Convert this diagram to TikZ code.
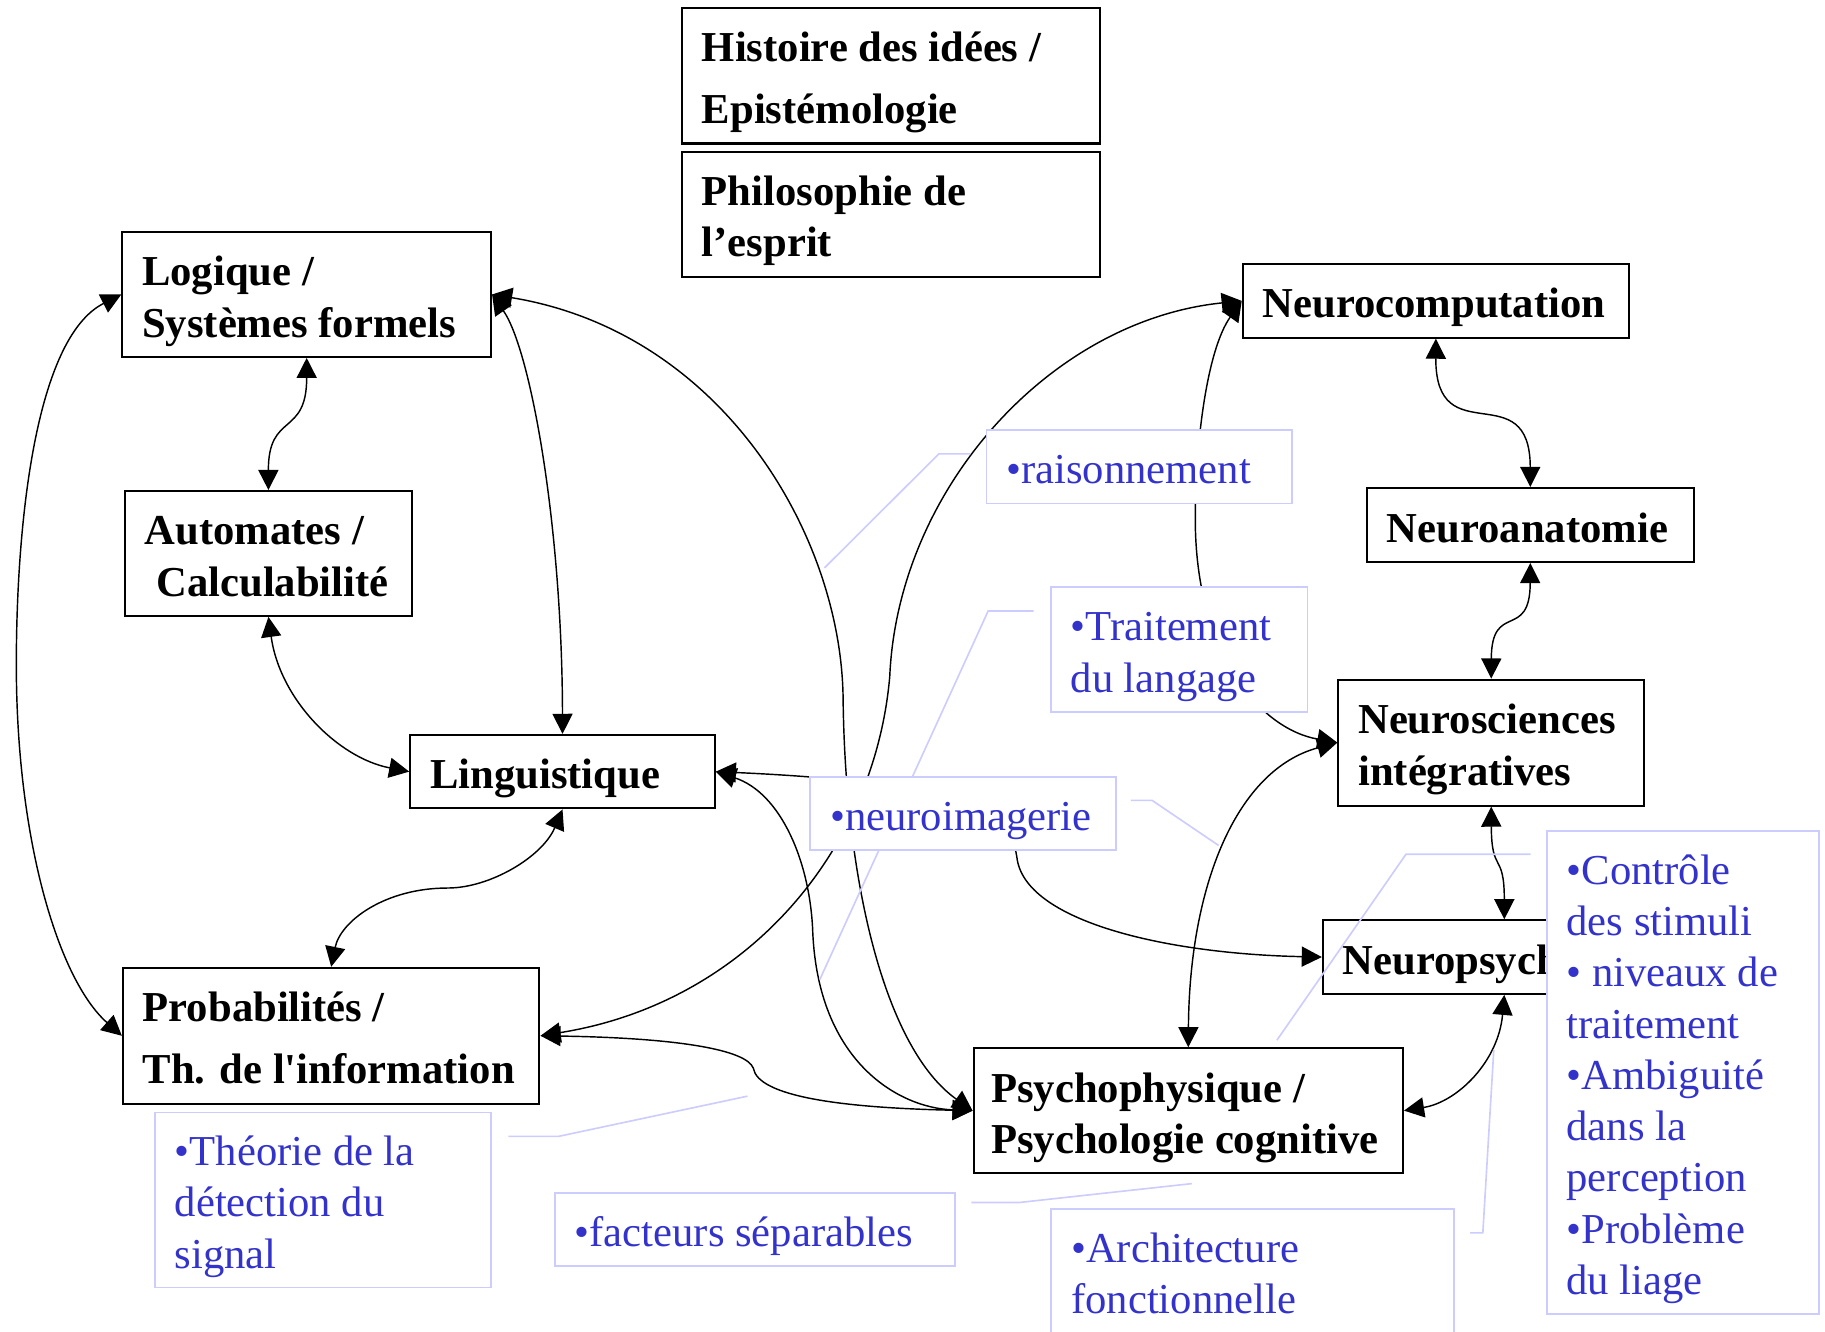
\documentclass[tikz,border=0pt]{standalone}
\usepackage{fontspec}
\setmainfont{Liberation Serif}
\usetikzlibrary{arrows.meta,calc}
\definecolor{bleu}{RGB}{51,51,204}
\definecolor{bleupale}{RGB}{204,204,255}
\pgfdeclarelayer{fond}
\pgfsetlayers{fond,main}
\newcommand{\tx} {\fontsize{10.4}{12.5}\selectfont}
\newcommand{\txl}{\fontsize{10.4}{15.2}\selectfont}
\newcommand{\haut}{\rule{0pt}{10.7pt}}
\newcommand{\bas} {\rule[-2.4pt]{0pt}{2.4pt}}

\begin{document}
\begin{tikzpicture}[x=0.01cm,y=-0.01cm,
      dom/.style={draw,line width=0.5pt,fill=white,font=\tx\bfseries,align=flush left,inner xsep=0.17cm,inner ysep=0pt,
                  execute at begin node=\haut,execute at end node=\bas},
      theme/.style={draw=bleupale,line width=0.45pt,fill=white,text=bleu,font=\tx,align=flush left,inner xsep=0.17cm,inner ysep=0pt,
                  execute at begin node=\haut,execute at end node=\bas},
      lien/.style={{Triangle[length=4.9pt,width=4.9pt]}-{Triangle[length=4.9pt,width=4.9pt]},line width=0.35pt},
      renvoi/.style={bleupale,line width=0.4pt}]
      \useasboundingbox (0,0) rectangle (1565,1141.4);

      \node[dom,font=\txl\bfseries,text width=3.24cm,minimum height=1.16cm] (histoire) at (764,65) {Histoire des idées /\\Epistémologie};
      \node[dom,text width=3.24cm,minimum height=1.07cm] (philo) at (764,183.7) {Philosophie de\\l’esprit};
      \node[dom,text width=2.82cm,minimum height=1.07cm] (logique) at (263,252.5) {Logique /\\Systèmes formels};
      \node[dom,text width=2.12cm,minimum height=1.07cm] (automates) at (230.2,474.6) {Automates /\\\hspace*{0.1cm}Calculabilité};
      \node[dom,text width=2.27cm,minimum height=0.63cm] (linguistique) at (482.4,661.7) {Linguistique};
      \node[dom,font=\txl\bfseries,text width=3.23cm,minimum height=1.165cm] (proba) at (284,888.2) {Probabilités /\\\mbox{Th. de l\textquotesingle information}};
      \node[dom,text width=2.97cm,minimum height=0.63cm] (neurocomp) at (1231.3,258) {Neurocomputation};
      \node[dom,text width=2.46cm,minimum height=0.635cm] (neuroanat) at (1312.3,450.2) {Neuroanatomie};
      \node[dom,text width=2.28cm,minimum height=1.08cm] (neurosci) at (1278.8,636.8) {Neurosciences\\intégratives};
      \node[dom,text width=2.77cm,minimum height=0.63cm] (neuropsy) at (1290,820.7) {Neuropsychologie};
      \node[dom,inner xsep=0.15cm,text width=3.38cm,minimum height=1.07cm] (psycho) at (1019,952.4) {Psychophysique /\\\mbox{Psychologie cognitive}};

      \node[theme,text width=2.28cm,minimum height=0.63cm] (raison) at (977,400.2) {•raisonnement};
      \node[theme,text width=1.86cm,minimum height=1.067cm] (traitement) at (1011.2,557) {•Traitement\\du langage};
      \node[theme,text width=2.28cm,minimum height=0.625cm] (neuroim) at (826,697.3) {•neuroimagerie};
      \node[theme,text width=2.54cm,minimum height=1.50cm] (theorie) at (277,1029) {•Théorie de la\\détection du\\signal};
      \node[theme,text width=3.09cm,minimum height=0.624cm] (facteurs) at (647.5,1054.2) {•facteurs séparables};
      \node[theme,text width=3.11cm,minimum height=1.07cm] (archi) at (1074.2,1090.2) {•Architecture\\fonctionnelle};
      \node[theme,text width=1.99cm,minimum height=4.14cm] (controle) at (1443,919.5) {•Contrôle\\des stimuli\\• niveaux de\\traitement\\•Ambiguité\\dans la\\perception\\•Problème\\du liage};

      \coordinate (pr) at (707,487);
      \coordinate (pt) at (703,840);
      \coordinate (pn) at (1045,725);
      \coordinate (pc) at (1095,892);
      \coordinate (pa) at (1281,900);
      \coordinate (pf) at (1022,1015);
      \coordinate (pth) at (641,940);

      \begin{pgfonlayer}{fond}
      \draw[lien] (logique.west) .. controls (30,290) and (14,450) .. (14,570)
                  .. controls (14,720) and (50,840) .. (proba.west);
      \draw[lien] (logique.south) .. controls (263,375) and (230,353) .. (automates.north);
      \draw[lien] (automates.south) .. controls (240,600) and (290,650) .. (linguistique.west);
      \draw[lien] (logique.east) .. controls (455,300) and (482,450) .. (linguistique.north);
      \draw[lien] (linguistique.south) .. controls (465,735) and (420,761.5) .. (384,761.5)
                  .. controls (330,761.5) and (292,790) .. (proba.north);
      \draw[lien] (linguistique.east) .. controls (800,670) and (866,690) .. (872,735)
                  .. controls (878,790) and (1000,818) .. (neuropsy.west);
      \draw[lien] (linguistique.east) .. controls (670,680) and (695,740) .. (697,800)
                  .. controls (702,910) and (770,950) .. (psycho.west);
      \draw[lien] (proba.east) .. controls (640,860) and (750,730) .. (763,580)
                  .. controls (770,420) and (900,275) .. (neurocomp.west);
      \draw[lien] (logique.east) .. controls (620,285) and (722,460) .. (723,600)
                  .. controls (725,760) and (760,900) .. (psycho.west);
      \draw[lien] (proba.east) .. controls (580,890) and (640,900) .. (646,916)
                  .. controls (650,940) and (720,950) .. (psycho.west);
      \draw[lien] (neurocomp.west) .. controls (1035,300) and (1025,380) .. (1025,445)
                  .. controls (1025,560) and (1080,625) .. (neurosci.west);
      \draw[lien] (neurocomp.south) .. controls (1231,390) and (1312,320) .. (neuroanat.north);
      \draw[lien] (neuroanat.south) .. controls (1312,550) and (1279,515) .. (neurosci.north);
      \draw[lien] (neurosci.south) .. controls (1279,750) and (1290,730) .. (neuropsy.north);
      \draw[lien] (neurosci.west) .. controls (1060,660) and (1020,760) .. (psycho.north);
      \draw[lien] (neuropsy.south) .. controls (1285,910) and (1250,945) .. (psycho.east);
      \draw[renvoi] ($(traitement.west)+(-14,-33)$) -- ++(-39,0) -- (pt);
      \end{pgfonlayer}

      \draw[renvoi] ($(raison.west)+(-13,-11)$) -- ++(-27,0) -- (pr);
      \draw[renvoi] ($(neuroim.east)+(12,-11)$) -- ++(18,0) -- (pn);
      \draw[renvoi] ($(controle.north west)+(-13,21)$) -- ++(-107,0) -- (pc);
      \draw[renvoi] ($(archi.east)+(13,-33)$) -- ++(11,0) -- (pa);
      \draw[renvoi] ($(facteurs.east)+(13,-23)$) -- ++(41,0) -- (pf);
      \draw[renvoi] ($(theorie.east)+(14,-54.5)$) -- ++(43,0) -- (pth);
\end{tikzpicture}
\end{document}
